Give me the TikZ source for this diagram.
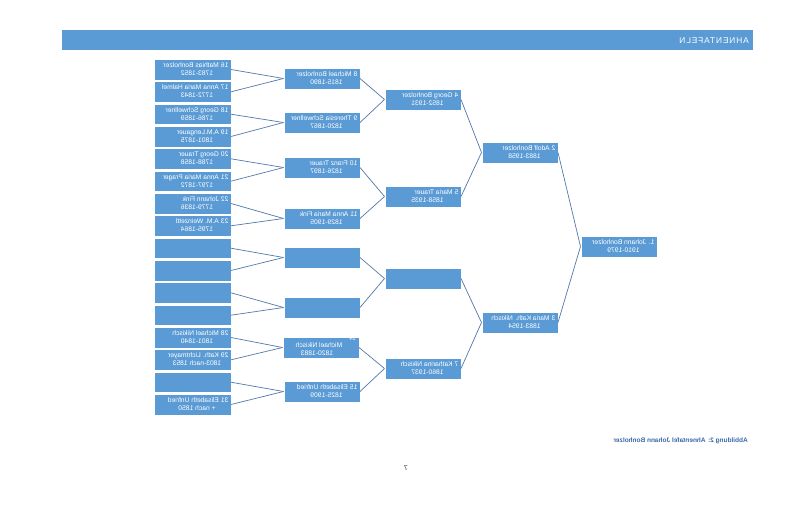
\documentclass[tikz,border=0pt]{standalone}
\usepackage{fontspec}
\setmainfont{Liberation Sans}
\definecolor{boxblue}{HTML}{5B9BD5}
\definecolor{lineblue}{RGB}{84,120,168}
\definecolor{capblue}{RGB}{58,104,170}
\tikzset{
  abox/.style={draw=white, line width=0.5pt, fill=boxblue, minimum height=20.5pt, inner sep=0pt},
  atxt/.style={text=white, inner sep=0pt, font=\fontsize{6.7}{8}\selectfont},
  conn/.style={draw=lineblue, line width=0.7pt},
  hdr/.style={fill=boxblue, draw=none, minimum width=691pt, minimum height=20pt, inner sep=0pt},
}
\newcommand\ahnbox[6]{%
  \node[abox, minimum width=#4pt, anchor=north west] (#1) at (#2,#3) {};
  \node[atxt, anchor=base west] at ({#2+2.5},{#3+8.5}) {#5};
  \node[atxt, anchor=base] at ({#2+#4/2-4.5},{#3+16.3}) {#6};
}
\begin{document}
\begin{tikzpicture}[x=1pt,y=-1pt]
\useasboundingbox (0,0) rectangle (800,522);
\fill[white] (0,0) rectangle (800,522);
\begin{scope}[shift={(800,0)}, xscale=-1, every node/.append style={transform shape}]
  % header
  \node[hdr, anchor=north west] (header) at (47,30) {};
  \node[text=white, inner sep=0pt, anchor=west, font=\fontsize{8.4}{10}\selectfont\addfontfeatures{LetterSpace=10}] (htitle) at (51,40.5) {AHNENTAFELN};
  % generation 5 (16-31)
  \ahnbox{b16}{569}{59}{77}{16 Mathias Bonholzer}{1783-1852}
  \ahnbox{b17}{569}{81.3}{77}{17 Anna Maria Halmel}{1772-1843}
  \ahnbox{b18}{569}{103.7}{77}{18 Georg Schwellner}{1786-1859}
  \ahnbox{b19}{569}{126}{77}{19 A.M.Lengauer}{1801-1875}
  \ahnbox{b20}{569}{148.3}{77}{20 Georg Trauer}{1788-1858}
  \ahnbox{b21}{569}{170.7}{77}{21 Anna Maria Prager}{1797-1872}
  \ahnbox{b22}{569}{193}{77}{22 Johann Fink}{1779-1836}
  \ahnbox{b23}{569}{215.3}{77}{23 A.M. Weinzettl}{1795-1864}
  \ahnbox{b24}{569}{237.7}{77}{}{}
  \ahnbox{b25}{569}{260}{77}{}{}
  \ahnbox{b26}{569}{282.3}{77}{}{}
  \ahnbox{b27}{569}{304.7}{77}{}{}
  \ahnbox{b28}{569}{327}{77}{28 Michael Nikisch}{1801-1840}
  \ahnbox{b29}{569}{349.3}{77}{29 Kath. Lichtmayer}{1803-nach 1853}
  \ahnbox{b30}{569}{371.7}{77}{}{}
  \ahnbox{b31}{569}{394}{77}{31 Elisabeth Unfried}{+ nach 1850}
  % generation 4 (8-15)
  \ahnbox{b8}{440}{68}{76}{8 Michael Bonholzer}{1815-1890}
  \ahnbox{b9}{440}{112}{76}{9 Theresia Schwellner}{1820-1867}
  \ahnbox{b10}{440}{157}{76}{10 Franz Trauer}{1826-1897}
  \ahnbox{b11}{440}{208}{76}{11 Anna Maria Fink}{1829-1905}
  \ahnbox{b12}{440}{247}{76}{}{}
  \ahnbox{b13}{440}{297}{76}{}{}
  \node[abox, minimum width=76pt, anchor=north west] (b14) at (441,337) {};
  \node[atxt, anchor=base west, font=\fontsize{5.8}{6}\selectfont] (t14a) at (444,340.5) {14};
  \node[atxt, anchor=base] (t14b) at (481,347.5) {Michael Nikisch};
  \node[atxt, anchor=base] (t14c) at (483,355.5) {1820-1883};
  \ahnbox{b15}{440}{381}{76}{15 Elisabeth Unfried}{1825-1909}
  % generation 3 (4-7)
  \ahnbox{b4}{339}{89}{76}{4 Georg Bonholzer}{1852-1931}
  \ahnbox{b5}{339}{186}{76}{5 Maria Trauer}{1858-1935}
  \ahnbox{b6}{339}{268}{76}{}{}
  \ahnbox{b7}{339}{358}{76}{7 Katharina Nikisch}{1860-1937}
  % generation 2
  \ahnbox{b2}{242}{142}{76}{2 Adolf Bonholzer}{1883-1958}
  \ahnbox{b3}{242}{312}{76}{3 Maria Kath. Nikisch}{1883-1954}
  % generation 1
  \ahnbox{b1}{143}{236}{76}{1. Johann Bonholzer}{1910-1979}
  % connectors
  \foreach \p in {1,...,15} {
    \pgfmathtruncatemacro\ca{2*\p}
    \pgfmathtruncatemacro\cb{2*\p+1}
    \draw[conn] (b\p.east) -- (b\ca.west);
    \draw[conn] (b\p.east) -- (b\cb.west);
  }
  % caption and page number
  \node[text=capblue, inner sep=0pt, anchor=west, font=\fontsize{6.5}{7}\bfseries] (caption) at (52,441) {Abbildung 2: Ahnentafel Johann Bonholzer};
  \node[text=black!80, inner sep=0pt, font=\fontsize{7}{8}\selectfont] (pnum) at (394,468) {7};
\end{scope}
\end{tikzpicture}
\end{document}
